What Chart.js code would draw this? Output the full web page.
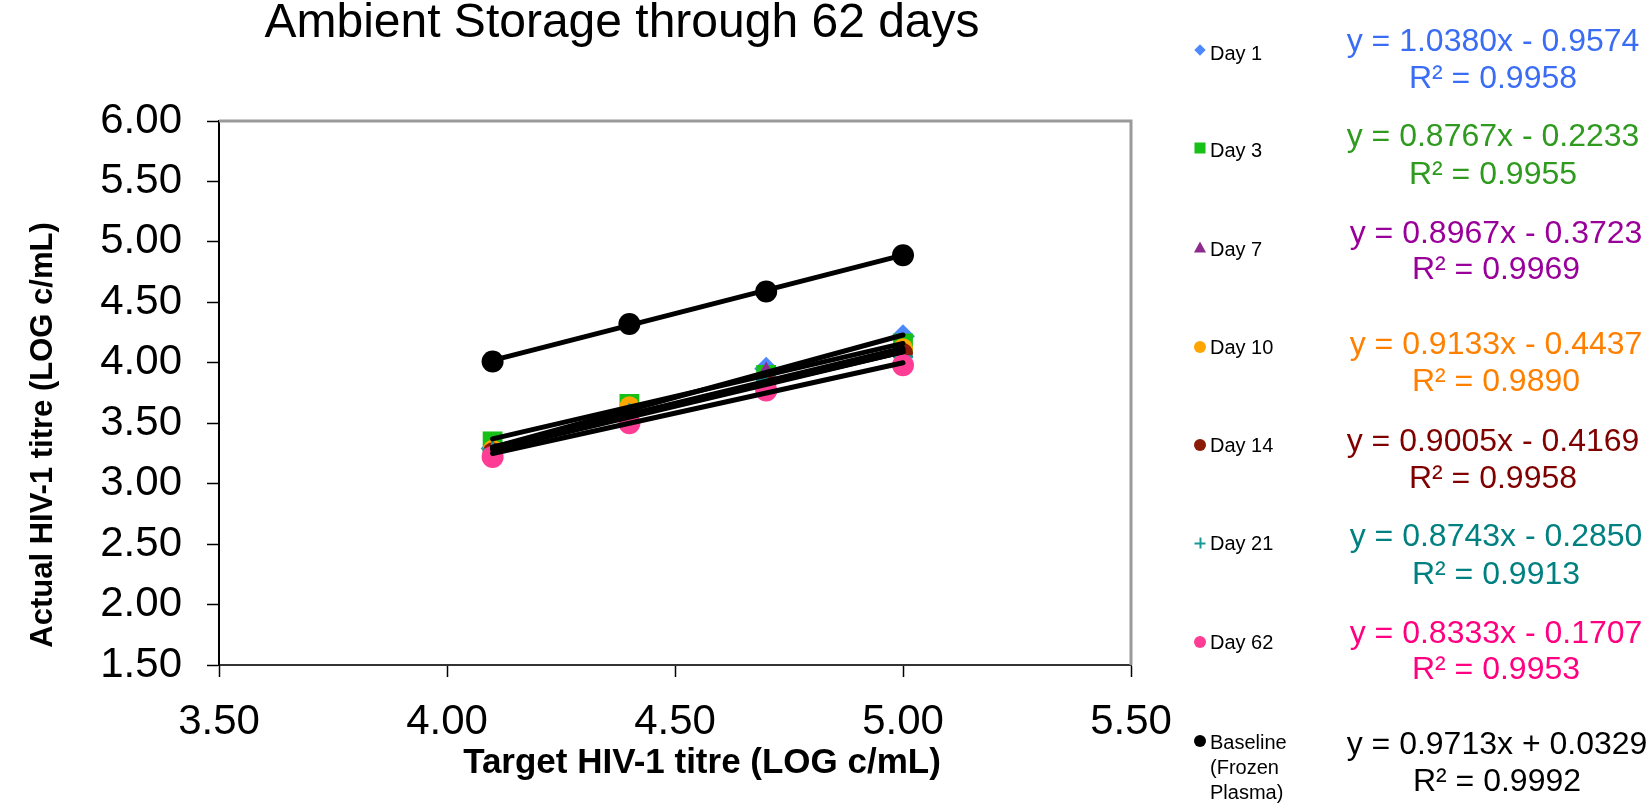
<!DOCTYPE html>
<html>
<head>
<meta charset="utf-8">
<script src="https://cdn.jsdelivr.net/npm/chart.js@4.4.1/dist/chart.umd.min.js"></script>
<style>
  html, body { margin: 0; padding: 0; background: #fff; }
  body { width: 1646px; height: 804px; position: relative; overflow: hidden;
         font-family: 'Liberation Sans', Arial, sans-serif; color: #000; }
  #wrap { position: absolute; left: 0; top: 0; width: 1646px; height: 804px; }
  .title { position: absolute; left: 622px; top: 21px; transform: translate(-50%, -50%);
           font-size: 48px; white-space: nowrap; line-height: 1; }
  .lab { position: absolute; left: 1210px; font-size: 20px; line-height: 25px;
         transform: translateY(-50%); white-space: nowrap; }
  .mk { position: absolute; left: 1200px; transform: translate(-50%, -50%); }
  .eq { position: absolute; left: 1494px; font-size: 32px; line-height: 1;
        transform: translate(-50%, -50%); white-space: nowrap; }
</style>
</head>
<body>
<div id="wrap"><canvas id="titreChart"></canvas></div>
<div class="title">Ambient Storage through 62 days</div>
<div id="legend"></div>

<script>
// Target titre (x) for every series
const targetTitre = [4.1, 4.4, 4.7, 5.0];

const day1 = [3.29, 3.58, 3.95, 4.22];
const day3 = [3.35, 3.66, 3.90, 4.16];
const day7 = [3.30, 3.57, 3.92, 4.05];
const day10 = [3.28, 3.64, 3.81, 4.12];
const day14 = [3.26, 3.56, 3.82, 4.08];
const day21 = [3.28, 3.58, 3.86, 4.05];
const day62 = [3.22, 3.50, 3.77, 3.98];
const baseline = [4.01, 4.32, 4.59, 4.89];

// Linear trendline ends at x = 4.1 and x = 5.0
const trendX = [4.1, 5.0];
const trendDay1 = [3.30, 4.23];
const trendDay3 = [3.37, 4.16];
const trendDay7 = [3.30, 4.11];
const trendDay10 = [3.30, 4.12];
const trendDay14 = [3.28, 4.09];
const trendDay21 = [3.30, 4.09];
const trendDay62 = [3.25, 4.00];
const trendBaseline = [4.02, 4.89];

const seriesNames = ['Day 1', 'Day 3', 'Day 7', 'Day 10', 'Day 14', 'Day 21', 'Day 62', 'Baseline (Frozen Plasma)'];
const equations = [
    'y = 1.0380x - 0.9574', 'y = 0.8767x - 0.2233', 'y = 0.8967x - 0.3723', 'y = 0.9133x - 0.4437',
    'y = 0.9005x - 0.4169', 'y = 0.8743x - 0.2850', 'y = 0.8333x - 0.1707', 'y = 0.9713x + 0.0329'
];
const rSquared = ['R² = 0.9958', 'R² = 0.9955', 'R² = 0.9969', 'R² = 0.9890',
                  'R² = 0.9958', 'R² = 0.9913', 'R² = 0.9953', 'R² = 0.9992'];

const yTickMin = 1.5, yTickMax = 6.0;
const xTickMin = 3.5, xTickMax = 5.5;
const tickStep = 0.5;
const xTitle = 'Target HIV-1 titre (LOG c/mL)';
const yTitle = 'Actual HIV-1 titre (LOG c/mL)';

const pointSets = [day1, day3, day7, day10, day14, day21, day62, baseline];
const trendSets = [trendDay1, trendDay3, trendDay7, trendDay10, trendDay14, trendDay21, trendDay62, trendBaseline];

// styling
const markerColors = ['#4d88ff', '#16c016', '#8e2a8e', '#ffa500', '#8b1a06', '#1a9999', '#ff3d94', '#000000'];
const textColors = ['#3a6cf4', '#2e9a1e', '#990099', '#ff8000', '#800000', '#008080', '#ff0080', '#000000'];
const markerStyles = ['rectRot', 'rect', 'triangle', 'circle', 'circle', 'cross', 'circle', 'circle'];
const markerRadius = [12, 14, 11, 10, 10, 10, 11, 11];

const FONT = "'Liberation Sans', Arial, sans-serif";

document.addEventListener('DOMContentLoaded', function() {
    buildLegend();
    initChart();
});

function initChart() {
    const ctx = document.getElementById('titreChart');

    const datasets = [];
    seriesNames.forEach((name, i) => {
        datasets.push({
            type: 'scatter',
            label: name,
            data: targetTitre.map((x, j) => ({ x: x, y: pointSets[i][j] })),
            pointStyle: markerStyles[i],
            pointRadius: markerRadius[i],
            backgroundColor: markerColors[i],
            borderColor: markerColors[i],
            borderWidth: markerStyles[i] === 'cross' ? 3 : 0,
            showLine: false,
            order: seriesNames.length - i + 1
        });
        datasets.push({
            type: 'line',
            label: name + ' trend',
            data: trendX.map((x, j) => ({ x: x, y: trendSets[i][j] })),
            borderColor: '#000',
            borderWidth: 5,
            borderCapStyle: 'round',
            pointRadius: 0,
            fill: false,
            order: 0
        });
    });

    // grey frame on top/right of the plot area
    const plotFrame = {
        id: 'plotFrame',
        beforeDatasetsDraw(chart) {
            const a = chart.chartArea;
            const c = chart.ctx;
            c.save();
            c.strokeStyle = '#9a9a9a';
            c.lineWidth = 3;
            c.beginPath();
            c.moveTo(a.left, a.top);
            c.lineTo(a.right, a.top);
            c.lineTo(a.right, a.bottom);
            c.stroke();
            c.restore();
        }
    };

    // axis titles sit a little off-centre in the original
    const axisTitles = {
        id: 'axisTitles',
        afterDraw(chart) {
            const a = chart.chartArea;
            const c = chart.ctx;
            c.save();
            c.fillStyle = '#000';
            c.textAlign = 'center';
            c.textBaseline = 'middle';
            c.font = 'bold 35px ' + FONT;
            c.fillText(xTitle, (a.left + a.right) / 2 + 27, 763);
            c.translate(43, (a.top + a.bottom) / 2 + 42);
            c.rotate(-Math.PI / 2);
            c.font = 'bold 31px ' + FONT;
            c.fillText(yTitle, 0, 0);
            c.restore();
        }
    };

    new Chart(ctx, {
        type: 'scatter',
        data: { datasets: datasets },
        options: {
            responsive: true,
            maintainAspectRatio: false,
            animation: false,
            events: [],
            layout: { padding: { left: 0, top: 121, right: 515, bottom: 0 } },
            plugins: {
                legend: { display: false },
                tooltip: { enabled: false }
            },
            scales: {
                x: {
                    type: 'linear',
                    min: xTickMin,
                    max: xTickMax,
                    afterFit: function(scale) { scale.height = 139; },
                    ticks: {
                        stepSize: tickStep,
                        color: '#000',
                        padding: 20,
                        font: { family: FONT, size: 42 },
                        callback: v => v.toFixed(2)
                    },
                    grid: { drawOnChartArea: false, tickLength: 12, tickColor: '#000', tickWidth: 1.5 },
                    border: { color: '#333', width: 2 }
                },
                y: {
                    type: 'linear',
                    min: yTickMin,
                    max: yTickMax,
                    afterFit: function(scale) { scale.width = 219; },
                    ticks: {
                        stepSize: tickStep,
                        color: '#000',
                        padding: 25,
                        font: { family: FONT, size: 42 },
                        callback: v => v.toFixed(2)
                    },
                    grid: { drawOnChartArea: false, tickLength: 12, tickColor: '#000', tickWidth: 1.5 },
                    border: { color: '#000', width: 2 }
                }
            }
        },
        plugins: [plotFrame, axisTitles]
    });
}

function markerHtml(i) {
    const c = markerColors[i];
    switch (markerStyles[i]) {
        case 'rectRot':
            return '<div style="width:8px;height:8px;background:' + c + ';transform:rotate(45deg)"></div>';
        case 'rect':
            return '<div style="width:11px;height:11px;background:' + c + '"></div>';
        case 'triangle':
            return '<div style="width:0;height:0;border-left:6px solid transparent;border-right:6px solid transparent;border-bottom:11px solid ' + c + '"></div>';
        case 'cross':
            return '<div style="position:relative;width:11px;height:11px">' +
                '<div style="position:absolute;left:0;top:5px;width:11px;height:2px;background:' + c + '"></div>' +
                '<div style="position:absolute;left:5px;top:0;width:2px;height:11px;background:' + c + '"></div></div>';
        default:
            return '<div style="width:12px;height:12px;border-radius:50%;background:' + c + '"></div>';
    }
}

function buildLegend() {
    // vertical layout of the legend column (px)
    const labelY = [53, 150, 249, 347, 445, 543, 642, 767];
    const markY = [50, 148, 247, 347, 445, 543, 642, 741];
    const eqY = [40, 135, 232, 343, 440, 535, 632, 743];
    const r2Y = [77, 173, 268, 380, 477, 573, 668, 780];
    const eqX = [1493, 1493, 1496, 1496, 1493, 1496, 1496, 1497];

    const box = document.getElementById('legend');
    let html = '';
    seriesNames.forEach((name, i) => {
        const label = name.replace(' (', '<br>(').replace('Frozen Plasma', 'Frozen<br>Plasma');
        html += '<div class="mk" style="top:' + markY[i] + 'px">' + markerHtml(i) + '</div>';
        html += '<div class="lab" style="top:' + labelY[i] + 'px">' + label + '</div>';
        html += '<div class="eq" style="top:' + eqY[i] + 'px;left:' + eqX[i] + 'px;color:' + textColors[i] + '">' + equations[i] + '</div>';
        html += '<div class="eq" style="top:' + r2Y[i] + 'px;left:' + eqX[i] + 'px;color:' + textColors[i] + '">' + rSquared[i] + '</div>';
    });
    box.innerHTML = html;
}
</script>
</body>
</html>
